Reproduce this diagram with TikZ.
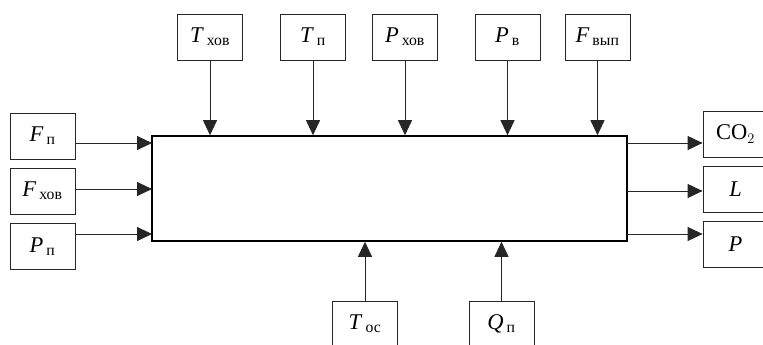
\documentclass[tikz,border=0pt]{standalone}
\usepackage{fontspec}
\setmainfont{Liberation Serif}
\usepackage{amsmath}
\usetikzlibrary{arrows.meta,positioning,calc}
\definecolor{linegrey}{HTML}{262626}
\tikzset{
  blk/.style={draw=linegrey, line width=0.8pt, minimum width=65pt,
              minimum height=46pt, inner sep=0pt, fill=white,
              font=\fontsize{22.5}{26}\selectfont},
  sysbox/.style={draw=black, line width=1.6pt, minimum width=475pt,
                 minimum height=105pt, inner sep=0pt},
  flow/.style={-{Triangle[length=15pt,width=14pt]}, line width=0.9pt,
               draw=linegrey, fill=black},
}
\newcommand{\sg}[2]{\textit{#1}\kern3pt$_{\text{#2}}$}

\begin{document}
\begin{tikzpicture}[x=1pt,y=-1pt]
\useasboundingbox (0,0) rectangle (763,345);
\clip (0,0) rectangle (763,345);

% ---------------- the plant ----------------------------------------------
\node[sysbox] (sys) at (389.5,188.5) {};

% ---------------- inputs from the left -----------------------------------
\node[blk] (Fp)  at (42.5,136)   {\sg{F}{п}};
\node[blk] (Fx)  at (42.5,191)   {\sg{F}{хов}};
\node[blk] (Pp)  at (42.5,246.5) {\sg{P}{п}};
\coordinate (in1) at (152,143);
\coordinate (in2) at (152,189);
\coordinate (in3) at (152,234);
\draw[flow] (Fp.east |- in1) -- (in1);
\draw[flow] (Fx.east |- in2) -- (in2);
\draw[flow] (Pp.east |- in3) -- (in3);

% ---------------- inputs from above --------------------------------------
\node[blk] (Tx)  at (210,37)   {\sg{T}{хов}};
\node[blk] (Tp)  at (313,37)   {\sg{T}{п}};
\node[blk] (Px)  at (405,37)   {\sg{P}{хов}};
\node[blk] (Pv)  at (507.5,37) {\sg{P}{в}};
\node[blk] (Fv)  at (597.5,37) {\sg{F}{вып}};
\foreach \n in {Tx,Tp,Px,Pv,Fv}
  \draw[flow] (\n.south) -- (\n.south |- sys.north);

% ---------------- disturbances from below --------------------------------
\node[blk] (Tos) at (365,324)   {\sg{T}{ос}};
\node[blk] (Qp)  at (501.5,324) {\sg{Q}{п}};
\foreach \n in {Tos,Qp}
  \draw[flow] (\n.north) -- (\n.north |- sys.south);

% ---------------- outputs ------------------------------------------------
\node[blk] (co2) at (735.5,134)   {CO$_2$};
\node[blk] (L)   at (735.5,189.5) {\textit{L}};
\node[blk] (P)   at (735.5,244.5) {\textit{P}};
\coordinate (out1) at (627,143);
\coordinate (out2) at (627,191);
\coordinate (out3) at (627,234);
\draw[flow] (out1) -- (co2.west |- out1);
\draw[flow] (out2) -- (L.west |- out2);
\draw[flow] (out3) -- (P.west |- out3);
\end{tikzpicture}
\end{document}
